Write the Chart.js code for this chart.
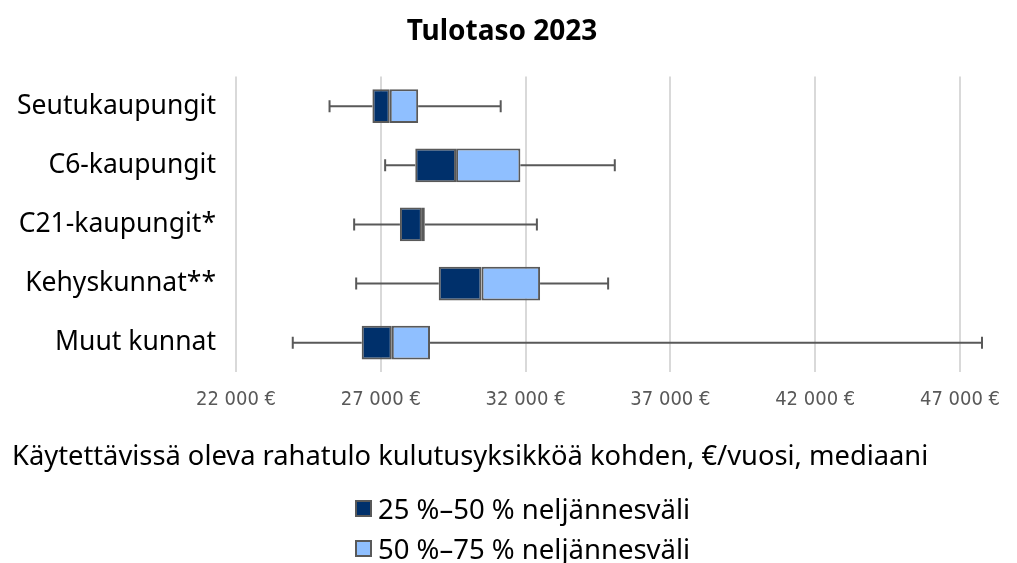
<!DOCTYPE html>
<html>
<head>
<meta charset="utf-8">
<script src="https://cdn.jsdelivr.net/npm/chart.js@4/dist/chart.umd.min.js"></script>
<style>
  html, body { margin: 0; padding: 0; background: #fff; }
  #wrap { position: relative; width: 1017px; height: 563px; }
  #legend { position: absolute; left: 355px; top: 488px; font-family: "Noto Sans", sans-serif; font-size: 27.5px; color: #000; }
  .item { display: flex; align-items: center; height: 40px; }
  .box { width: 13px; height: 13px; border: 2px solid #595959; margin-right: 6px; }
</style>
</head>
<body>
<div id="wrap">
  <canvas id="chart" width="1017" height="563"></canvas>
  <div id="legend"></div>
</div>
<script>
var categories = ['Seutukaupungit', 'C6-kaupungit', 'C21-kaupungit*', 'Kehyskunnat**', 'Muut kunnat'];
var minValues = [25230, 27150, 26080, 26150, 23960];
var q1Values = [26710, 28190, 27660, 29000, 26340];
var medianValues = [27310, 29600, 28420, 30480, 27380];
var q3Values = [28290, 31820, 28520, 32500, 28700];
var maxValues = [31140, 35080, 32390, 34850, 47760];
var tickValues = [22000, 27000, 32000, 37000, 42000, 47000];
var seriesNames = ['25 %\u201350 % neljännesväli', '50 %\u201375 % neljännesväli'];
var seriesColors = ['#00306b', '#8fbfff'];

// whiskers drawn under the boxes
var whiskers = {
  id: 'whiskers',
  beforeDatasetsDraw: function(chart){
    var ctx = chart.ctx;
    var x = chart.scales.x, y = chart.scales.y;
    ctx.save();
    ctx.strokeStyle = '#595959';
    ctx.lineWidth = 2;
    for(var i = 0; i < categories.length; i++){
      var yy = y.getPixelForValue(i);
      var x0 = x.getPixelForValue(minValues[i]);
      var x1 = x.getPixelForValue(q1Values[i]);
      var x3 = x.getPixelForValue(q3Values[i]);
      var x4 = x.getPixelForValue(maxValues[i]);
      ctx.beginPath();
      ctx.moveTo(x0, yy); ctx.lineTo(x1, yy);
      ctx.moveTo(x3, yy); ctx.lineTo(x4, yy);
      ctx.moveTo(x0, yy - 6); ctx.lineTo(x0, yy + 6);
      ctx.moveTo(x4, yy - 6); ctx.lineTo(x4, yy + 6);
      ctx.stroke();
    }
    ctx.restore();
  }
};

var ctx = document.getElementById('chart').getContext('2d');
var myChart = new Chart(ctx, {
  type: 'bar',
  data: {
    labels: categories,
    datasets: [
      {
        label: seriesNames[0],
        data: q1Values.map(function(v, i){ return [v, medianValues[i]]; }),
        backgroundColor: seriesColors[0]
      },
      {
        label: seriesNames[1],
        data: medianValues.map(function(v, i){ return [v, q3Values[i]]; }),
        backgroundColor: seriesColors[1]
      }
    ]
  },
  options: {
    indexAxis: 'y',
    responsive: false,
    animation: false,
    datasets: {
      bar: {
        grouped: false,
        borderColor: '#595959',
        borderWidth: 2,
        borderSkipped: false,
        barPercentage: 0.57,
        categoryPercentage: 1
      }
    },
    layout: { padding: { top: 8, right: 25, bottom: 89, left: 12 } },
    plugins: {
      legend: { display: false },
      tooltip: { enabled: false },
      title: {
        display: true,
        text: 'Tulotaso 2023',
        color: '#000',
        font: { family: 'Noto Sans', size: 28, weight: 'bold' },
        padding: { top: 7, bottom: 28 }
      },
      // x axis title, placed under the tick labels
      subtitle: {
        display: true,
        position: 'bottom',
        align: 'start',
        text: 'Käytettävissä oleva rahatulo kulutusyksikköä kohden, €/vuosi, mediaani',
        color: '#000',
        font: { family: 'Noto Sans', size: 27.3 },
        padding: { top: 13, bottom: 0 }
      }
    },
    scales: {
      x: {
        min: 22000,
        max: 48000,
        afterBuildTicks: function(scale){
          scale.ticks = tickValues.map(function(v){ return {value: v}; });
        },
        grid: { color: '#d9d9d9', lineWidth: 2, drawTicks: false },
        border: { display: false },
        ticks: {
          color: '#595959',
          padding: 16,
          maxRotation: 0,
          font: { family: "'DejaVu Sans Condensed', sans-serif", size: 20 },
          callback: function(v){ return String(v).replace(/(\d{2})(\d{3})$/, '$1 $2') + ' €'; }
        }
      },
      y: {
        afterFit: function(scale){ scale.width = 224; },
        grid: { display: false, drawTicks: false },
        border: { display: false },
        ticks: {
          color: '#000',
          padding: 20,
          font: { family: 'Noto Sans', size: 26.5 }
        }
      }
    }
  },
  plugins: [whiskers]
});

// legend below the chart, one item per line
var legend = document.getElementById('legend');
seriesNames.forEach(function(name, i){
  var item = document.createElement('div');
  item.className = 'item';
  var box = document.createElement('span');
  box.className = 'box';
  box.style.background = seriesColors[i];
  var txt = document.createElement('span');
  txt.textContent = name;
  item.appendChild(box);
  item.appendChild(txt);
  legend.appendChild(item);
});
</script>
</body>
</html>
